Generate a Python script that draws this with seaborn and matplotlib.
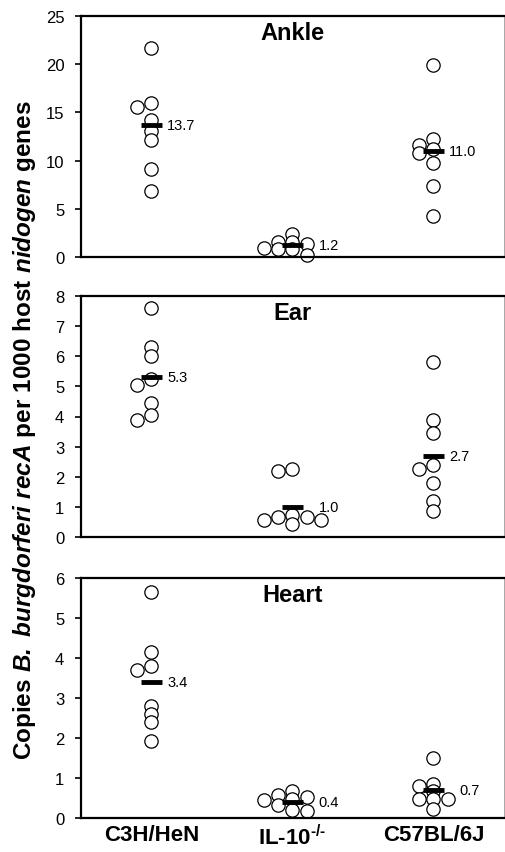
import matplotlib
matplotlib.use("Agg")
import matplotlib.pyplot as plt
import numpy as np
import pandas as pd
import seaborn as sns

# values (copies per 1000 host nidogen genes)
strains = ["C3H/HeN", "IL-10$^{\\mathrm{‐/‐}}$", "C57BL/6J"]
tissues = ["Ankle", "Ear", "Heart"]

ankle_c3h = [21.7, 16.0, 15.6, 14.2, 13.1, 12.1, 9.1, 6.8]
ankle_il10 = [2.4, 1.6, 1.6, 1.3, 0.9, 0.8, 0.8, 0.2]
ankle_c57 = [19.9, 12.2, 11.6, 11.2, 10.8, 9.8, 7.4, 4.3]

ear_c3h = [7.6, 6.3, 6.0, 5.25, 5.05, 4.45, 4.05, 3.9]
ear_il10 = [2.25, 2.2, 0.72, 0.68, 0.68, 0.55, 0.56, 0.42]
ear_c57 = [5.8, 3.9, 3.45, 2.4, 2.25, 1.8, 1.2, 0.85]

heart_c3h = [5.65, 4.15, 3.8, 3.7, 2.8, 2.6, 2.4, 1.92]
heart_il10 = [0.67, 0.58, 0.53, 0.48, 0.44, 0.33, 0.19, 0.17]
heart_c57 = [1.5, 0.86, 0.79, 0.68, 0.48, 0.47, 0.47, 0.23]

ankle_means = [13.7, 1.2, 11.0]
ear_means = [5.3, 1.0, 2.7]
heart_means = [3.4, 0.4, 0.7]

ankle_ticks = [0, 5, 10, 15, 20, 25]
ear_ticks = [0, 1, 2, 3, 4, 5, 6, 7, 8]
heart_ticks = [0, 1, 2, 3, 4, 5, 6]

panels = [
    ("Ankle", [ankle_c3h, ankle_il10, ankle_c57], ankle_means, ankle_ticks),
    ("Ear", [ear_c3h, ear_il10, ear_c57], ear_means, ear_ticks),
    ("Heart", [heart_c3h, heart_il10, heart_c57], heart_means, heart_ticks),
]

sns.set_theme(style="ticks")
plt.rcParams["font.family"] = ["Liberation Sans", "DejaVu Sans"]
plt.rcParams["text.color"] = "black"
plt.rcParams["xtick.color"] = "black"
plt.rcParams["ytick.color"] = "black"
plt.rcParams["mathtext.fontset"] = "custom"
plt.rcParams["mathtext.rm"] = "Liberation Sans:bold"
plt.rcParams["mathtext.bf"] = "Liberation Sans:bold"
plt.rcParams["mathtext.bfit"] = "Liberation Sans:italic:bold"
plt.rcParams["mathtext.it"] = "Liberation Sans:italic:bold"

W, H = 506, 853
fig = plt.figure(figsize=(W / 100, H / 100), dpi=100)
boxes = [(17, 258), (297, 538), (579, 819)]  # top/bottom pixel rows
left, right = 81, 504
STEP = 0.1     # horizontal slot width, category units
MIN_GAP = 7.0  # px of vertical room before a point moves to a side slot


def slot_layout(vals, px_per_unit):
    # quantised beeswarm: top-down, centre first, then left/right slots
    order = [0, -1, 1, -2, 2, -3, 3]
    placed = []
    slots = np.zeros(len(vals))
    for k in np.argsort(vals)[::-1]:
        y = vals[k] * px_per_unit
        for s in order:
            if all(abs(y - py) >= MIN_GAP for ps, py in placed if ps == s):
                break
        placed.append((s, y))
        slots[k] = s
    return slots * STEP


axes = []
for (name, groups, means, ticks), (top, bot) in zip(panels, boxes):
    ax = fig.add_axes([left / W, 1 - bot / H, (right - left) / W, (bot - top) / H])
    ppu = (bot - top) / (ticks[-1] - ticks[0])
    xs, ys = [], []
    for i, g in enumerate(groups):
        g = np.asarray(g, float)
        xs.append(i + slot_layout(g, ppu))
        ys.append(g)
    df = pd.DataFrame({"x": np.concatenate(xs), "value": np.concatenate(ys)})
    sns.scatterplot(data=df, x="x", y="value", ax=ax, s=92, color="white",
                    edgecolor="black", linewidth=0.9, clip_on=False, zorder=2)
    ax.hlines(means, np.arange(3) - 0.075, np.arange(3) + 0.075,
              color="black", lw=3.5, zorder=4)
    # mean labels just right of the points that sit at the mean height
    for i, m in enumerate(means):
        near = np.abs(ys[i] - m) * ppu < 10
        edge = i + 0.075
        if near.any():
            edge = max(edge, xs[i][near].max() + 0.05)
        ax.text(edge + 0.035, m, f"{m:.1f}", ha="left", va="center",
                fontsize=10.5, color="black")
    ax.set_xlim(-0.5, 2.5)
    ax.set_ylim(ticks[0], ticks[-1])
    ax.set_yticks(ticks)
    ax.set_xticks([0, 1, 2])
    ax.set_xlabel("")
    ax.set_ylabel("")
    ax.tick_params(axis="y", direction="out", length=4, width=1.2, pad=8,
                   labelsize=12, colors="black")
    ax.tick_params(axis="x", length=0, pad=4, colors="black")
    for s in ["left", "bottom", "top"]:
        ax.spines[s].set_linewidth(1.6)
        ax.spines[s].set_color("black")
    ax.spines["right"].set_linewidth(0.6)
    ax.spines["right"].set_color("#999999")
    ax.text(0.5, 0.93, name, transform=ax.transAxes, ha="center", va="center",
            fontsize=17, fontweight="bold", color="black")
    axes.append(ax)

for ax in axes[:2]:
    ax.set_xticklabels([])
axes[2].set_xticklabels(strains, fontsize=16, fontweight="bold")

ylabel = (r"$\mathbf{Copies}\ \mathbfit{B.\ burgdorferi\ recA}\ "
          r"\mathbf{per\ 1000\ host}\ \mathbfit{nidogen}\ \mathbf{genes}$")
fig.text(25 / W, 1 - 430 / H, ylabel, rotation=90, ha="center", va="center",
         fontsize=17.5, color="black")

fig.savefig("out.png", dpi=100)
